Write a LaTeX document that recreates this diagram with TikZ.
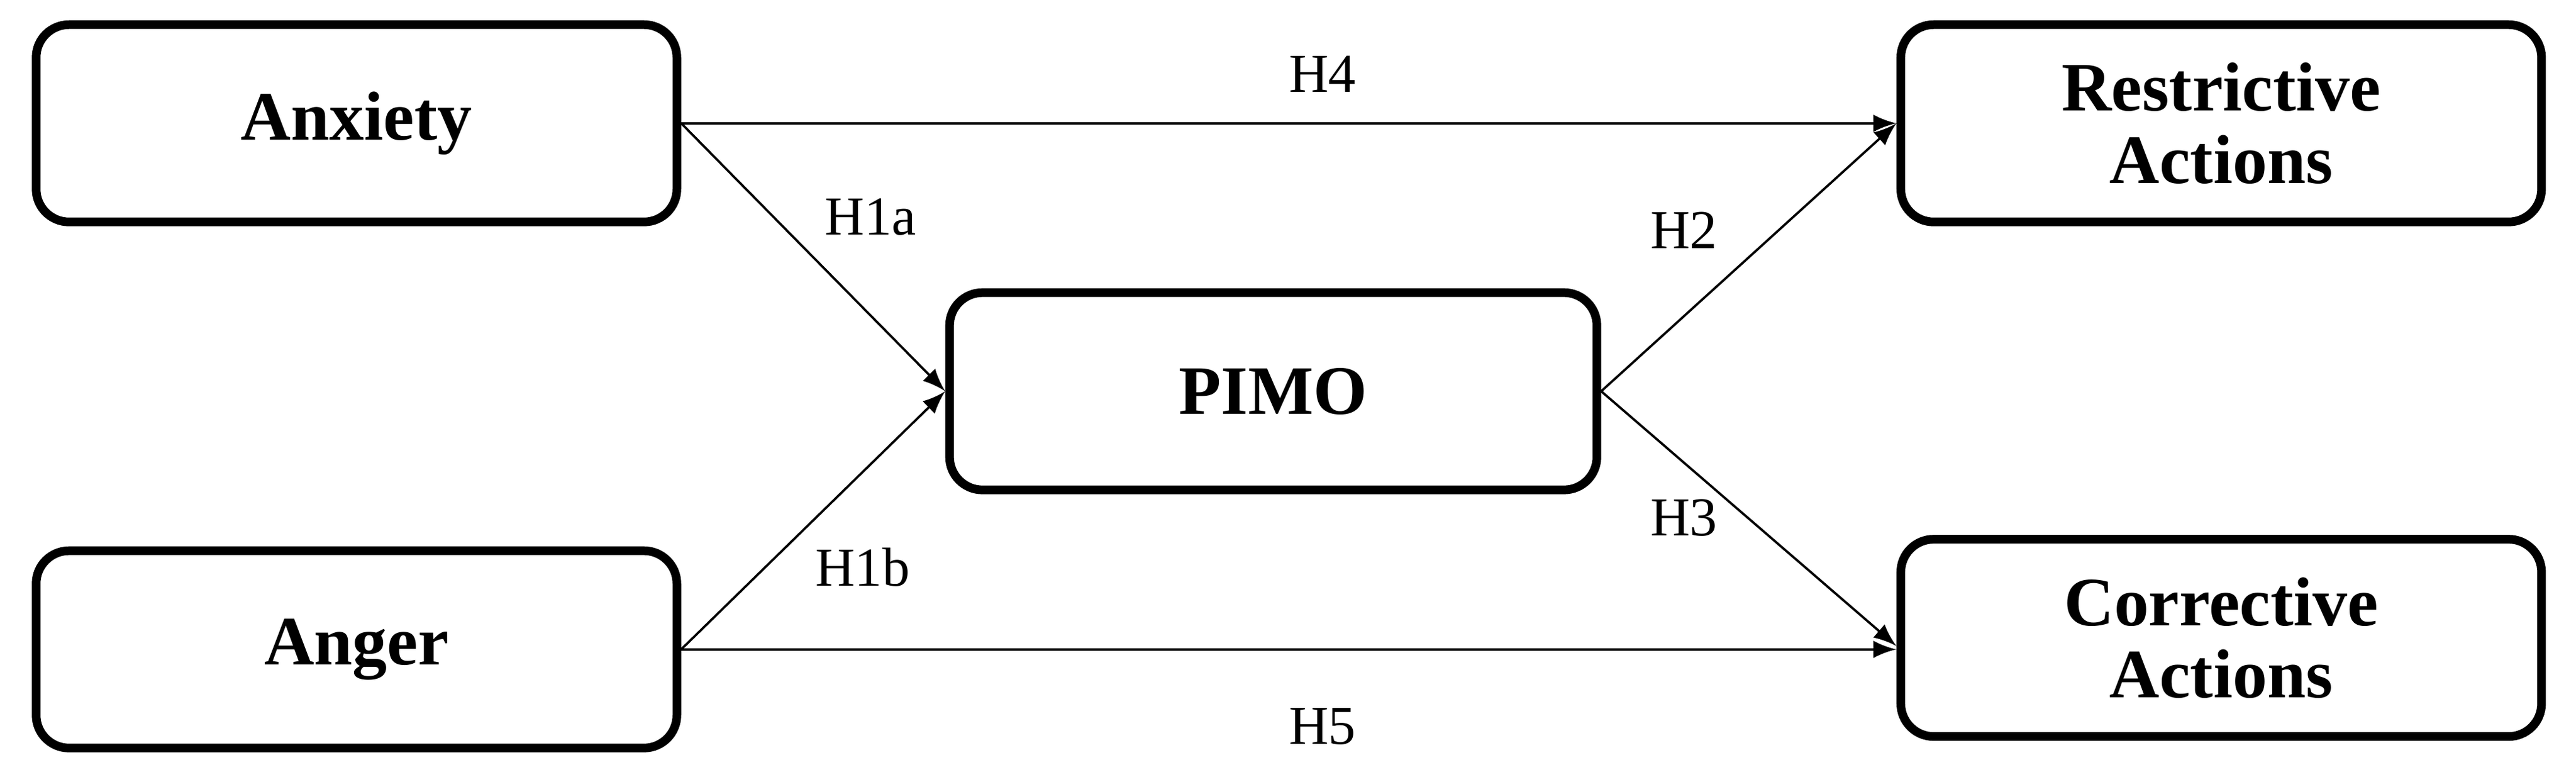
\documentclass[tikz,border=0pt]{standalone}
\usepackage{fontspec}
\setmainfont{Liberation Serif}
\usetikzlibrary{arrows,shapes,positioning,calc}

\begin{document}
\begin{tikzpicture}[
    box/.style={draw,line width=1.5pt,rounded corners=0.2cm,minimum width=3.9cm,
        minimum height=1.2cm,align=center,font=\fontsize{12}{12.5}\selectfont\bfseries},
    arr/.style={-latex,thin},
    lab/.style={font=\fontsize{9.5}{11}\selectfont}]
            \useasboundingbox (0,0) rectangle (15.68,4.62);
            \node[box] (anx) at (2.17,3.87) {Anxiety};
            \node[box] (ang) at (2.17,0.67) {Anger};
            \node[box,minimum width=3.94cm] (pimo) at (7.75,2.24) {PIMO};
            \node[box] (res) at (13.52,3.87) {Restrictive\\Actions};
            \node[box] (cor) at (13.52,0.74) {Corrective\\Actions};
            \draw[arr] (anx.east) -- (res.west);
            \draw[arr] (anx.east) -- (pimo.west);
            \draw[arr] (ang.east) -- (pimo.west);
            \draw[arr] (ang.east) -- (ang.east -| cor.west);
            \draw[arr] (pimo.east) -- (res.west);
            \draw[arr] (pimo.east) -- ($(cor.west)+(0,-0.05)$);
            \node[lab] (h4) at (8.05,4.17) {H4};
            \node[lab] (h1a) at (5.3,3.30) {H1a};
            \node[lab] (h2) at (10.25,3.22) {H2};
            \node[lab] (h3) at (10.25,1.47) {H3};
            \node[lab] (h1b) at (5.25,1.17) {H1b};
            \node[lab] (h5) at (8.05,0.20) {H5};
        \end{tikzpicture}
\end{document}
